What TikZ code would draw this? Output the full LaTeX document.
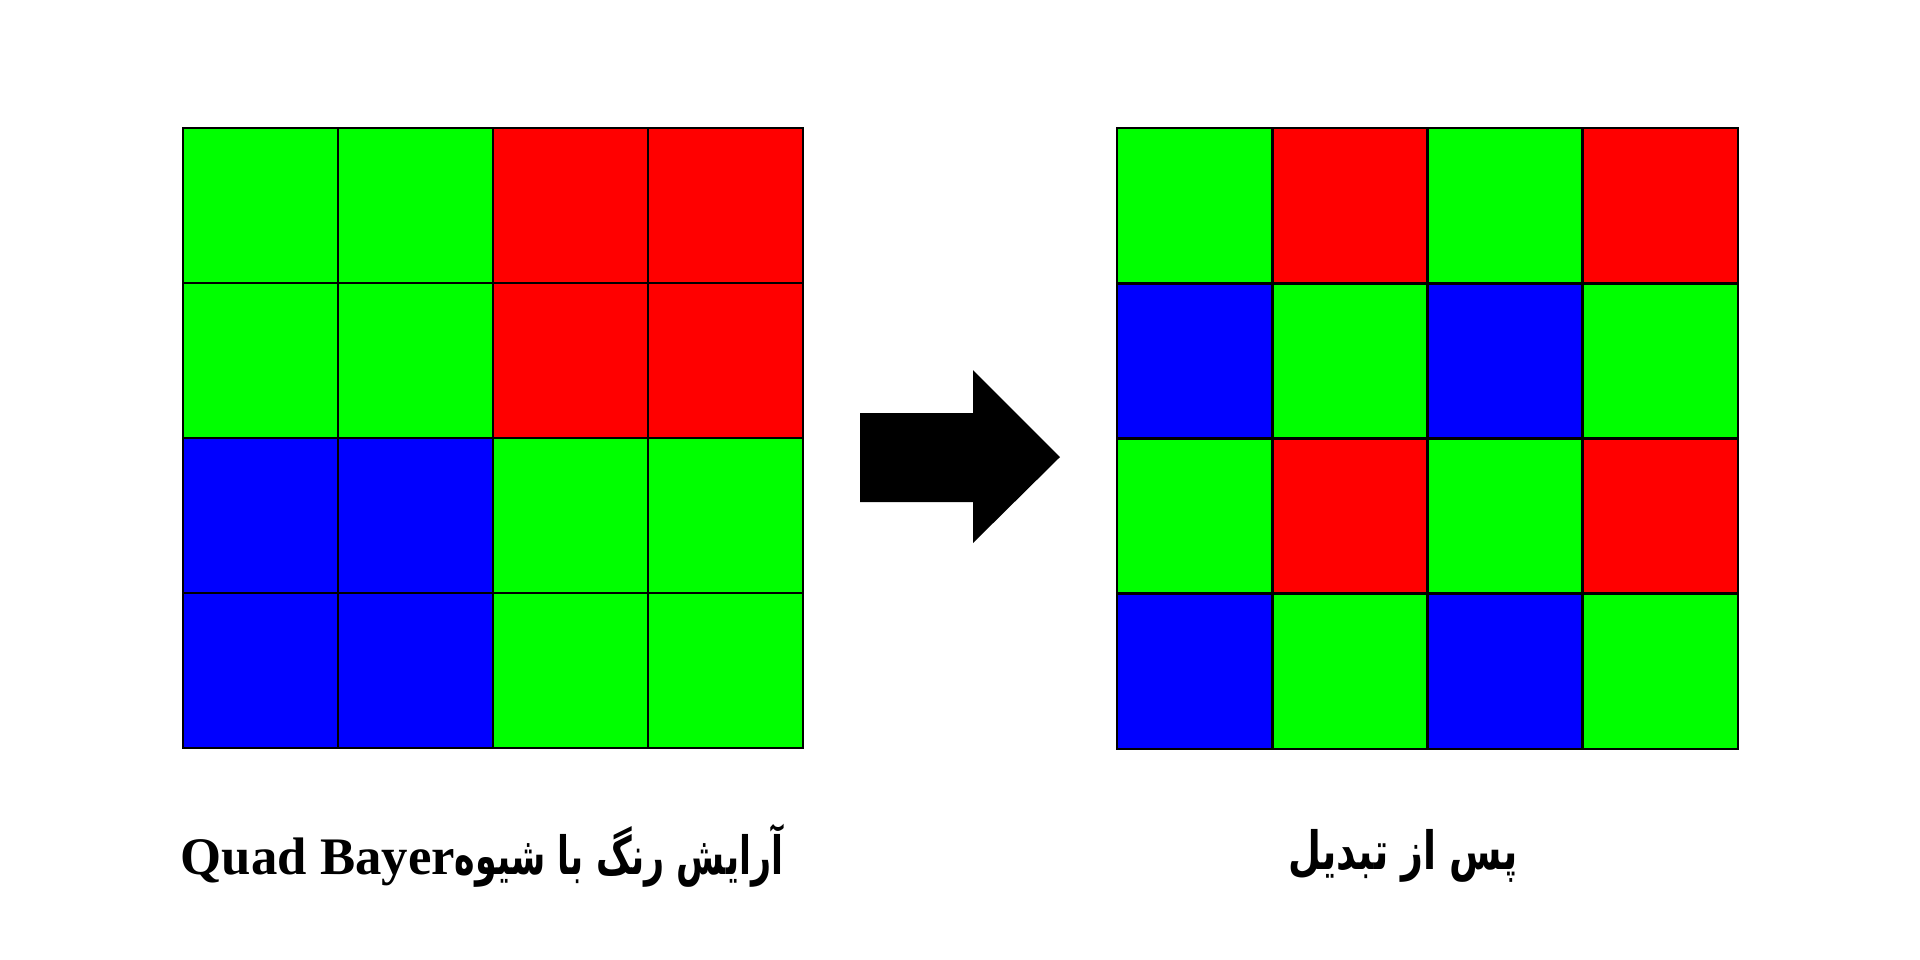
\documentclass[tikz,border=0pt]{standalone}
\usepackage{fontspec}
\setmainfont{Liberation Serif}
\newfontfamily\arabicfont[Script=Arabic,FakeStretch=0.72]{DejaVu Sans}
\newfontfamily\arabicnarrow[Script=Arabic,FakeStretch=0.66]{DejaVu Sans}
\TeXXeTstate=1
\definecolor{cg}{RGB}{0,255,0}
\definecolor{cr}{RGB}{255,0,0}
\definecolor{cb}{RGB}{0,0,255}
\begin{document}
\begin{tikzpicture}[x=0.01cm,y=-0.01cm,
  cell/.style={draw=black,line width=0.8pt},
  lbl/.style={inner sep=0pt,font=\fontsize{15}{17}\selectfont\bfseries}]
\useasboundingbox (0,0) rectangle (1920,960);
% left grid
\def\L{183}\def\T{128}\def\S{155}
\foreach \row/\cols in {0/{cg,cg,cr,cr},1/{cg,cg,cr,cr},2/{cb,cb,cg,cg},3/{cb,cb,cg,cg}}{
  \foreach \c [count=\i from 0] in \cols {
    \filldraw[cell,fill=\c] ({\L+\i*\S},{\T+\row*\S}) rectangle ++(\S,\S);
  }
}
% right grid
\def\R{1117}
\foreach \row/\cols in {0/{cg,cr,cg,cr},1/{cb,cg,cb,cg},2/{cg,cr,cg,cr},3/{cb,cg,cb,cg}}{
  \foreach \c [count=\i from 0] in \cols {
    \filldraw[cell,fill=\c] ({\R+\i*\S.25},{\T+\row*\S.25}) rectangle ++(\S.25,\S.25);
  }
}
% arrow
\fill[black] (860,413) -- (973,413) -- (973,370) -- (1060,457) -- (973,543) -- (973,502) -- (860,502) -- cycle;
% labels
\node[lbl] (left) at (482,856) {\beginR{\arabicnarrow آرایش رنگ با شیوه}\beginL Quad Bayer\endL\endR};
\node[lbl] (right) at (1403,856) {{\arabicfont\beginR پس از تبدیل\endR}};
\end{tikzpicture}
\end{document}
